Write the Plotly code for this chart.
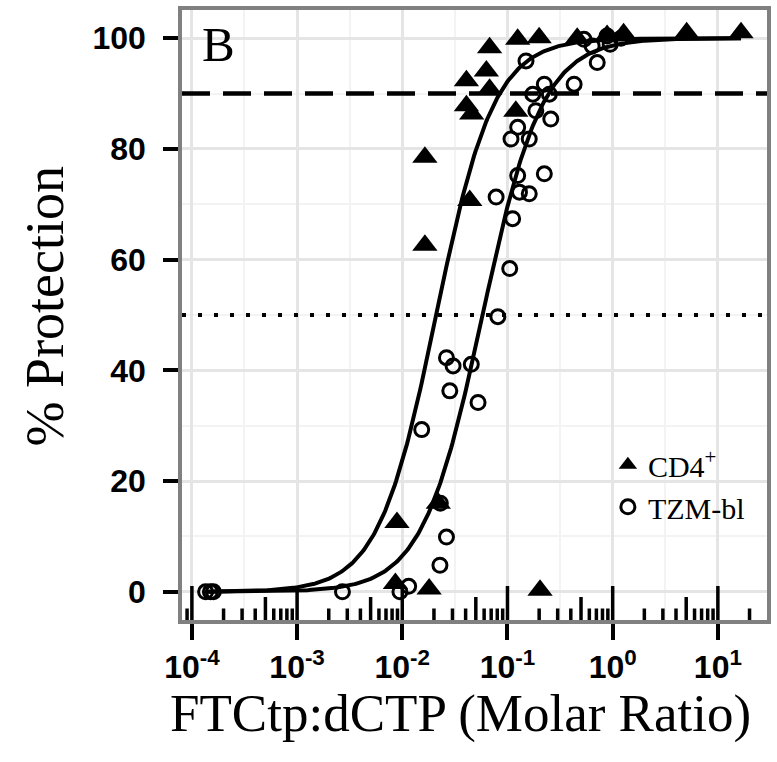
import numpy as np
import plotly.graph_objects as go

# ---------------- data ----------------
cd4_x = [0.0086, 0.0089, 0.018, 0.022, 0.0164, 0.0164, 0.0438, 0.0407, 0.0407,
         0.0457, 0.063, 0.0676, 0.0676, 0.12, 0.125, 0.2, 0.204, 0.46, 0.885,
         1.27, 5.05, 16.6]
cd4_y = [1.5, 12.5, 0.5, 16, 62.6, 78.5, 70.7, 92.3, 87.8,
         86.3, 94.1, 98.3, 90.8, 86.8, 99.8, 100.1, 0.3, 100, 100.5,
         100.8, 101, 101]

tzm_x = [0.000135, 0.00015, 0.00016, 0.0027, 0.0095, 0.0115, 0.0228, 0.0263,
         0.023, 0.0153, 0.0283, 0.0263, 0.0304, 0.0453, 0.0525, 0.081, 0.105,
         0.112, 0.078, 0.13, 0.161, 0.125, 0.224, 0.108, 0.161, 0.125, 0.258,
         0.186, 0.174, 0.25, 0.224, 0.43, 0.15, 0.713, 0.638, 0.533, 0.885,
         0.946, 1.2]
tzm_y = [0, 0, 0, 0, 0, 1, 4.8, 9.9,
         16, 29.3, 36.3, 42.3, 40.8, 41.1, 34.2, 49.7, 58.4,
         67.4, 71.3, 72.2, 71.9, 75.2, 75.5, 81.8, 81.8, 83.9, 85.4,
         86.9, 89.9, 89.9, 91.7, 91.7, 95.9, 95.6, 98.6, 99.8, 100.4,
         98.9, 100]

# fitted dose-response (Hill) parameters
cd4_ec50, cd4_hill = 0.021, 1.58
tzm_ec50, tzm_hill = 0.058, 1.52

ref_lines = {"ec90": 90, "ec50": 50}

x_ticks = [1e-4, 1e-3, 1e-2, 1e-1, 1e0, 1e1]
x_ticktext = ["10<sup>-4</sup>", "10<sup>-3</sup>", "10<sup>-2</sup>",
              "10<sup>-1</sup>", "10<sup>0</sup>", "10<sup>1</sup>"]
y_ticks = [0, 20, 40, 60, 80, 100]

# ---------------- figure ----------------
SERIF = "Liberation Serif"
SANS = "Liberation Sans"

x_lo = min(min(cd4_x), min(tzm_x))
x_hi = max(max(cd4_x), max(tzm_x))
xc = np.logspace(np.log10(x_lo), np.log10(x_hi), 400)


def hill(x, ec50, n):
    return 100.0 / (1.0 + (ec50 / x) ** n)


fig = go.Figure()

fig.add_trace(go.Scatter(
    x=cd4_x, y=cd4_y, mode="markers", name="CD4<sup>+</sup>",
    marker=dict(symbol="triangle-up", size=22, color="black", line=dict(width=0)),
))
fig.add_trace(go.Scatter(
    x=tzm_x, y=tzm_y, mode="markers", name="TZM-bl",
    marker=dict(symbol="circle-open", size=14, color="black", line=dict(width=3, color="black")),
))
fig.add_trace(go.Scatter(
    x=xc, y=hill(xc, cd4_ec50, cd4_hill), mode="lines", showlegend=False,
    line=dict(color="black", width=4), hoverinfo="skip",
))
fig.add_trace(go.Scatter(
    x=xc, y=hill(xc, tzm_ec50, tzm_hill), mode="lines", showlegend=False,
    line=dict(color="black", width=4), hoverinfo="skip",
))

shapes = []
# reference lines
shapes.append(dict(type="line", xref="paper", x0=0, x1=1, yref="y",
                   y0=ref_lines["ec90"], y1=ref_lines["ec90"],
                   line=dict(color="black", width=4.5, dash="28px,13px"), layer="above"))
shapes.append(dict(type="line", xref="paper", x0=0, x1=1, yref="y",
                   y0=ref_lines["ec50"], y1=ref_lines["ec50"],
                   line=dict(color="black", width=4, dash="4px,12px"), layer="above"))

# log ticks along the bottom, inside the panel
x_range = [-4.094, 1.467]
for e in range(-5, 2):
    for m in range(1, 10):
        v = m * 10.0 ** e
        lv = np.log10(v)
        if lv < x_range[0] + 0.005 or lv > x_range[1] - 0.005:
            continue
        L = 34 if m == 1 else (23 if m == 5 else 11.5)
        shapes.append(dict(type="line", xref="x", x0=v, x1=v,
                           yref="paper", ysizemode="pixel", yanchor=0, y0=0, y1=L,
                           line=dict(color="black", width=3.5), layer="above"))

fig.update_layout(
    width=777, height=762,
    margin=dict(l=182, r=6, t=7, b=142),
    paper_bgcolor="white", plot_bgcolor="white",
    shapes=shapes,
    showlegend=True,
    legend=dict(x=0.728, y=0.297, xanchor="left", yanchor="top",
                bgcolor="rgba(0,0,0,0)", font=dict(family=SERIF, size=30, color="black"),
                itemsizing="trace", tracegroupgap=0),
    annotations=[
        dict(text="B", x=0.0628, y=0.944, xref="paper", yref="paper",
             xanchor="center", yanchor="middle", showarrow=False,
             font=dict(family=SERIF, size=49, color="black")),
        dict(text="% Protection", x=-0.2326, y=0.514, xref="paper", yref="paper",
             xanchor="center", yanchor="middle", textangle=-90, showarrow=False,
             font=dict(family=SERIF, size=54, color="black")),
        dict(text="FTCtp:dCTP (Molar Ratio)", x=0.4754, y=-0.1533, xref="paper", yref="paper",
             xanchor="center", yanchor="middle", showarrow=False,
             font=dict(family=SERIF, size=53, color="black")),
    ],
)

fig.update_xaxes(
    type="log", range=x_range,
    tickvals=x_ticks, ticktext=x_ticktext,
    ticks="outside", ticklen=16, tickwidth=4, tickcolor="black",
    tickfont=dict(family=SANS, size=32, color="black", weight="bold"),
    ticklabelstandoff=0,
    showgrid=True, gridcolor="#e5e5e5", gridwidth=2.5,
    minor=dict(tickvals=[10 ** (k + 0.5) for k in range(-5, 2)], showgrid=True,
               gridcolor="#f3f3f3", gridwidth=2, ticks=""),
    showline=True, mirror=True, linecolor="#808080", linewidth=3.5,
    zeroline=False,
)
fig.update_yaxes(
    range=[-5.09, 105.1],
    tickvals=y_ticks,
    ticks="outside", ticklen=15, tickwidth=4, tickcolor="black",
    tickfont=dict(family=SANS, size=32, color="black", weight="bold"),
    ticklabelstandoff=11,
    showgrid=True, gridcolor="#e5e5e5", gridwidth=2.5,
    minor=dict(dtick=10, showgrid=True, gridcolor="#f3f3f3", gridwidth=2, ticks=""),
    showline=True, mirror=True, linecolor="#808080", linewidth=3.5,
    zeroline=False,
)

fig.write_html("out.html")
